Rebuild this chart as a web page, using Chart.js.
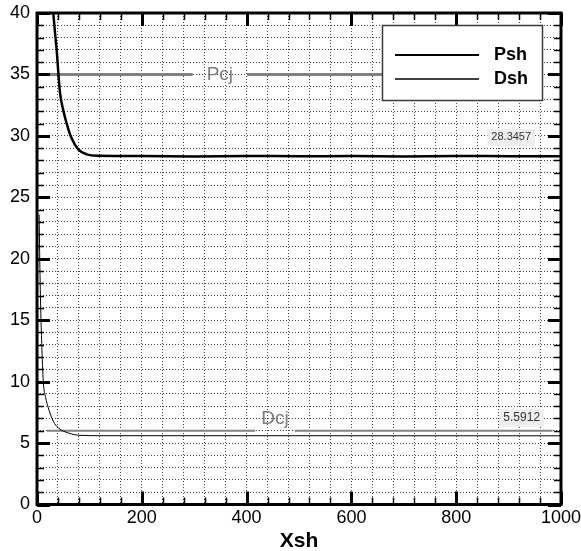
<!DOCTYPE html>
<html>
<head>
<meta charset="utf-8">
<script src="https://cdn.jsdelivr.net/npm/chart.js@4.4.1/dist/chart.umd.min.js"></script>
<style>
  html, body { margin: 0; padding: 0; background: #fff; }
</style>
</head>
<body>
<canvas id="chart" width="581" height="551"></canvas>
<script>
const FONT = "'Liberation Sans', Arial, sans-serif";

// shock pressure along the run
const pshX = [31, 34.3, 37.5, 40.7, 43.9, 50, 56.6, 66, 78.7, 94.8, 115, 200, 300, 400, 500, 600, 700, 800, 900, 1000];
const pshY = [40, 38.4, 37, 35.1, 33.5, 32.1, 31, 29.8, 28.9, 28.5, 28.38, 28.36, 28.33, 28.37, 28.34, 28.36, 28.33, 28.37, 28.35, 28.3457];

// shock density along the run
const dshX = [4, 5, 7, 9, 12, 16.5, 21.6, 31, 40.7, 60, 82, 120, 1000];
const dshY = [23.6, 20.5, 16, 13.1, 10, 8.7, 7.86, 6.78, 6.23, 5.82, 5.63, 5.6, 5.5912];

// Chapman-Jouguet reference levels
const refNames = ['Pcj', 'Dcj'];
const refValues = [35, 6];
const refStart = [25, 18.5];
const refEnd = [900, 984];

const xTickLabels = [0, 200, 400, 600, 800, 1000];
const yTickLabels = [0, 5, 10, 15, 20, 25, 30, 35, 40];

// where the reference labels sit and how they break their line
const refLabelStyle = [
  { at: 349, pad: 14, dy: 0, width: 3 },
  { at: 454, pad: 6, dy: -12, width: 2 },
];
// value tags near the end of each curve
const endTagStyle = [
  { at: 905, dy: -19, size: 11 },
  { at: 925, dy: -18, size: 12 },
];

const toPoints = (xs, ys) => xs.map((v, i) => ({ x: v, y: ys[i] }));

const decorPlugin = {
  id: 'decor',
  beforeDatasetsDraw(chart) {
    const { ctx, chartArea: a, scales: { x, y } } = chart;
    ctx.save();
    ctx.beginPath();
    ctx.rect(a.left, a.top, a.width, a.height);
    ctx.clip();
    refNames.forEach((name, i) => {
      const st = refLabelStyle[i];
      const py = y.getPixelForValue(refValues[i]);
      const x0 = x.getPixelForValue(refStart[i]);
      const x1 = x.getPixelForValue(refEnd[i]);
      ctx.font = `19px ${FONT}`;
      const w = ctx.measureText(name).width;
      const cx = x.getPixelForValue(st.at);
      ctx.strokeStyle = '#828282';
      ctx.lineWidth = st.width;
      ctx.beginPath();
      ctx.moveTo(x0, py);
      ctx.lineTo(cx - w / 2 - st.pad, py);
      ctx.moveTo(cx + w / 2 + st.pad, py);
      ctx.lineTo(x1, py);
      ctx.stroke();
      ctx.fillStyle = '#7d7d7d';
      ctx.textAlign = 'center';
      ctx.textBaseline = 'middle';
      ctx.fillText(name, cx, py + st.dy);
    });
    ctx.restore();
  },
  afterDatasetsDraw(chart) {
    const { ctx, chartArea: a, scales: { x, y } } = chart;
    ctx.save();

    // value tags
    chart.data.datasets.forEach((ds, i) => {
      const st = endTagStyle[i];
      const last = ds.data[ds.data.length - 1];
      const txt = String(last.y);
      const cx = x.getPixelForValue(st.at);
      const cy = y.getPixelForValue(last.y) + st.dy;
      ctx.font = `${st.size}px ${FONT}`;
      const w = ctx.measureText(txt).width;
      ctx.fillStyle = '#eeeeee';
      ctx.fillRect(cx - w / 2 - 4, cy - st.size / 2 - 3, w + 8, st.size + 6);
      ctx.fillStyle = '#333';
      ctx.textAlign = 'center';
      ctx.textBaseline = 'middle';
      ctx.fillText(txt, cx, cy);
    });

    // inward tick marks on all four sides
    ctx.strokeStyle = '#000';
    y.ticks.forEach(t => {
      const py = Math.round(y.getPixelForValue(t.value)) + 0.5;
      const major = yTickLabels.includes(t.value);
      const len = major ? 13 : 7;
      ctx.lineWidth = major ? 3 : 1.5;
      ctx.beginPath();
      ctx.moveTo(a.left, py); ctx.lineTo(a.left + len, py);
      ctx.moveTo(a.right, py); ctx.lineTo(a.right - len, py);
      ctx.stroke();
    });
    x.ticks.forEach(t => {
      const px = Math.round(x.getPixelForValue(t.value)) + 0.5;
      const major = xTickLabels.includes(t.value);
      const len = major ? 13 : 7;
      ctx.lineWidth = major ? 3 : 1.5;
      ctx.beginPath();
      ctx.moveTo(px, a.bottom); ctx.lineTo(px, a.bottom - len);
      ctx.moveTo(px, a.top); ctx.lineTo(px, a.top + len);
      ctx.stroke();
    });

    // frame
    ctx.lineWidth = 3;
    ctx.strokeRect(a.left, a.top, a.right - a.left, a.bottom - a.top);

    // legend box
    const bx = a.right - 179, by = a.top + 12, bw = 160, bh = 75;
    ctx.fillStyle = '#fff';
    ctx.fillRect(bx, by, bw, bh);
    ctx.strokeStyle = '#3a3a3a';
    ctx.lineWidth = 1.5;
    ctx.strokeRect(bx + 0.5, by + 0.5, bw, bh);
    chart.data.datasets.forEach((ds, i) => {
      const ly = by + 30 + i * 24;
      ctx.strokeStyle = ds.borderColor;
      ctx.lineWidth = i === 0 ? 2 : 1.3;
      ctx.beginPath();
      ctx.moveTo(bx + 13, ly);
      ctx.lineTo(bx + 97, ly);
      ctx.stroke();
      ctx.fillStyle = '#000';
      ctx.font = `bold 18px ${FONT}`;
      ctx.textAlign = 'left';
      ctx.textBaseline = 'middle';
      ctx.fillText(ds.label, bx + 112, ly);
    });
    ctx.restore();
  },
};

new Chart(document.getElementById('chart'), {
  type: 'scatter',
  data: {
    datasets: [
      {
        label: 'Psh',
        data: toPoints(pshX, pshY),
        showLine: true,
        borderColor: '#000',
        borderWidth: 2.5,
        pointRadius: 0,
        cubicInterpolationMode: 'monotone',
      },
      {
        label: 'Dsh',
        data: toPoints(dshX, dshY),
        showLine: true,
        borderColor: '#000',
        borderWidth: 1,
        pointRadius: 0,
        cubicInterpolationMode: 'monotone',
      },
    ],
  },
  options: {
    responsive: false,
    animation: false,
    devicePixelRatio: 1,
    layout: { padding: { left: 3, top: 0, right: 0, bottom: 0 } },
    plugins: { legend: { display: false }, tooltip: { enabled: false } },
    scales: {
      x: {
        type: 'linear',
        min: 0,
        max: 1000,
        grid: { color: '#444', lineWidth: 1, drawTicks: false },
        border: { display: false, dash: [1, 2] },
        ticks: {
          stepSize: 40,
          autoSkip: false,
          maxRotation: 0,
          padding: 3,
          color: '#000',
          font: { family: FONT, size: 18 },
          callback: v => (xTickLabels.includes(v) ? String(v) : ''),
        },
        title: {
          display: true,
          text: 'Xsh',
          color: '#000',
          font: { family: FONT, size: 21, weight: 'bold', lineHeight: 0.9 },
          padding: { top: 0, bottom: 0 },
        },
        // keep room only for half of the last label on the right
        afterFit: s => { s.paddingLeft = 0; s.paddingRight = 20; },
      },
      y: {
        min: 0,
        max: 40,
        grid: { color: '#444', lineWidth: 1, drawTicks: false },
        border: { display: false, dash: [1, 2] },
        ticks: {
          stepSize: 1,
          autoSkip: false,
          padding: 7,
          color: '#000',
          font: { family: FONT, size: 18 },
          callback: v => (yTickLabels.includes(v) ? String(v) : ''),
        },
        afterFit: s => { s.paddingTop = 13; s.paddingBottom = 0; },
      },
    },
  },
  plugins: [decorPlugin],
});
</script>
</body>
</html>
